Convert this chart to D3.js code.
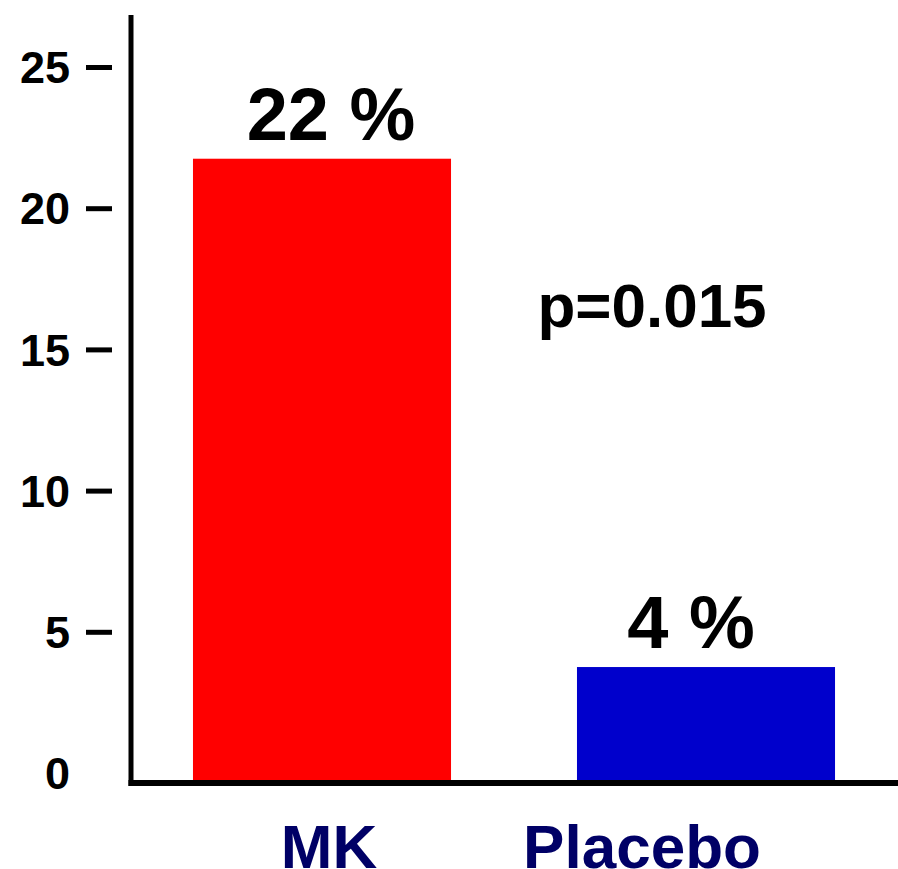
<!DOCTYPE html>
<html>
<head>
<meta charset="utf-8">
<script src="https://cdn.jsdelivr.net/npm/d3@7/dist/d3.min.js"></script>
<style>
  html, body { margin: 0; padding: 0; background: #fff; }
  svg { display: block; }
  text { font-family: "Liberation Sans", Arial, Helvetica, sans-serif; font-weight: bold; }
</style>
</head>
<body>
<svg id="chart" width="898" height="869"></svg>
<script>
// Response rates by treatment group
const categories = ["MK", "Placebo"];
const values = [22, 4];
const valueLabels = ["22 %", "4 %"];
const barColors = ["#ff0000", "#0000cc"];
const tickValues = [0, 5, 10, 15, 20, 25];
const pValueText = "p=0.015";

const svg = d3.select("#chart");
const W = 898, H = 869;
const axisX = 131, baseY = 780;

const x = d3.scaleBand()
  .domain(categories)
  .range([130, 898])
  .paddingInner(0.328)
  .paddingOuter(0.164);

const y = d3.scaleLinear()
  .domain([0, 25])
  .range([baseY, baseY - 25 * 28.24]);

// Bars
svg.append("g").selectAll("rect")
  .data(categories)
  .join("rect")
  .attr("x", d => x(d))
  .attr("width", x.bandwidth())
  .attr("y", (d, i) => y(values[i]))
  .attr("height", (d, i) => y(0) - y(values[i]))
  .attr("fill", (d, i) => barColors[i]);

// Y axis: labels with dashes, drawn slightly above the bar baseline
const yAxis = d3.axisLeft(y)
  .tickValues(tickValues)
  .tickSize(0)
  .tickPadding(61)
  .tickFormat(d3.format("d"));

const gy = svg.append("g")
  .attr("transform", `translate(${axisX},-7)`)
  .call(yAxis);
gy.select(".domain").remove();
gy.selectAll(".tick text")
  .attr("fill", "#000")
  .style("font-size", "45px")
  .attr("dy", "0.35em");
gy.selectAll(".tick").filter(d => d !== 0)
  .append("line")
  .attr("x1", -45).attr("x2", -19)
  .attr("y1", 0).attr("y2", 0)
  .attr("stroke", "#000")
  .attr("stroke-width", 5);

// Axis lines
svg.append("line")
  .attr("x1", axisX).attr("x2", axisX)
  .attr("y1", 15).attr("y2", 786)
  .attr("stroke", "#000").attr("stroke-width", 5);
svg.append("line")
  .attr("x1", axisX - 2.5).attr("x2", W)
  .attr("y1", 783).attr("y2", 783)
  .attr("stroke", "#000").attr("stroke-width", 6);

// Value labels above bars
const labelShift = [9, -15];
svg.append("g").selectAll("text")
  .data(categories)
  .join("text")
  .attr("x", (d, i) => x(d) + x.bandwidth() / 2 + labelShift[i])
  .attr("y", (d, i) => y(values[i]) - 19)
  .attr("text-anchor", "middle")
  .attr("fill", "#000")
  .style("font-size", "74px")
  .text((d, i) => valueLabels[i]);

// Category labels
const catShift = [7, -64];
svg.append("g").selectAll("text")
  .data(categories)
  .join("text")
  .attr("x", (d, i) => x(d) + x.bandwidth() / 2 + catShift[i])
  .attr("y", 868)
  .attr("text-anchor", "middle")
  .attr("fill", "#000066")
  .style("font-size", "62px")
  .text(d => d);

// Significance annotation
svg.append("text")
  .attr("x", 652)
  .attr("y", 327)
  .attr("text-anchor", "middle")
  .attr("fill", "#000")
  .style("font-size", "62px")
  .text(pValueText);
</script>
</body>
</html>
